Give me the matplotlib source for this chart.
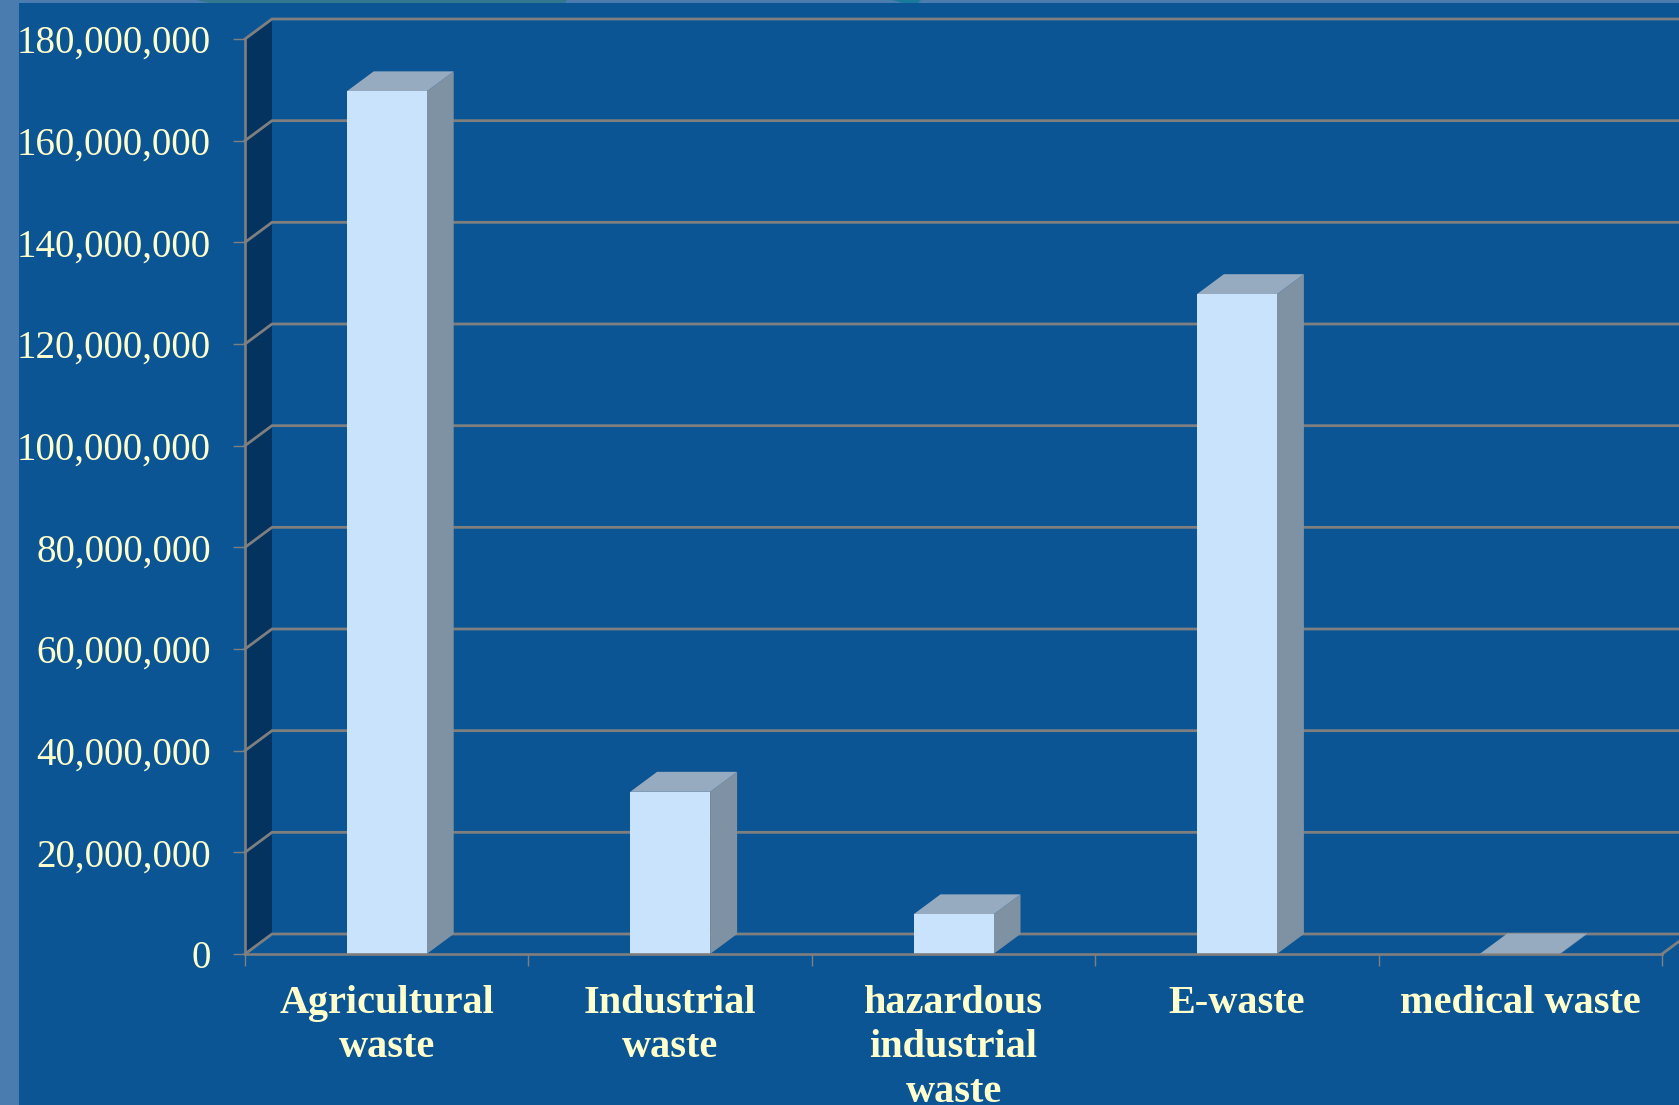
import matplotlib
matplotlib.use("Agg")
import matplotlib.pyplot as plt
from matplotlib.patches import Rectangle, Polygon
from matplotlib.ticker import FuncFormatter

categories = ["Agricultural\nwaste", "Industrial\nwaste", "hazardous\nindustrial\nwaste", "E-waste", "medical waste"]
values = [169700000, 31900000, 7800000, 129800000, 100000]
y_ticks = list(range(0, 180000001, 20000000))

BG = "#0B5595"
WALL = "#04335F"
GRID = "#7F7F7F"
FRONT = "#C9E3FC"
SIDE = "#7F92A3"
TOP = "#97ABC0"
TEXT = "#FFFFCC"
STRIP = "#4A7CB0"

W, H = 1679, 1105
fig = plt.figure(figsize=(W / 100, H / 100), dpi=100, facecolor=BG)
plt.rcParams["font.family"] = ["Liberation Serif", "DejaVu Serif"]

L, R, B, T = 245, 1662, 954, 39
ax = fig.add_axes([L / W, (H - B) / H, (R - L) / W, (B - T) / H])
ax.set_facecolor("none")
ax.set_xlim(0, 5)
ax.set_ylim(0, 180000000)

# depth of the pseudo-3D box, expressed in data units
dx = 27 / ((R - L) / 5)
dy = 20 / ((B - T) / 180000000)
bar_w = 80 / ((R - L) / 5)

for s in ["top", "right"]:
    ax.spines[s].set_visible(False)
for s in ["left", "bottom"]:
    ax.spines[s].set_color(GRID)
    ax.spines[s].set_linewidth(1.9)
    ax.spines[s].set_zorder(6)

ymax = y_ticks[-1]
ax.fill([0, dx, dx, 0], [0, dy, ymax + dy, ymax], color=WALL, lw=0, zorder=1, clip_on=False)
for v in y_ticks:
    ax.plot([0, dx, 5 + 2 * dx], [v, v + dy, v + dy], color=GRID, lw=2.0, zorder=2,
            clip_on=False, solid_joinstyle="miter")
ax.plot([5, 5 + dx], [0, dy], color=GRID, lw=2.0, zorder=2, clip_on=False)

xs = [i + 0.5 for i in range(len(values))]
for x, v in zip(xs, values):
    x0, x1 = x - bar_w / 2, x + bar_w / 2
    ax.fill([x1, x1 + dx, x1 + dx, x1], [0, dy, v + dy, v], color=SIDE, lw=0, zorder=3, clip_on=False)
    ax.fill([x0, x0 + dx, x1 + dx, x1], [v, v + dy, v + dy, v], color=TOP, lw=0, zorder=3, clip_on=False)
ax.bar(xs, values, width=bar_w, color=FRONT, edgecolor="none", linewidth=0, zorder=4)

ax.set_xticks(range(6))
ax.set_xticklabels([])
ax.set_xticks(xs, minor=True)
ax.set_xticklabels(categories, minor=True, fontsize=29, fontweight="bold", color=TEXT,
                   linespacing=1.28, family=["Liberation Serif", "DejaVu Serif"])
ax.tick_params(axis="x", which="major", length=8.6, width=1, color=GRID)
ax.tick_params(axis="x", which="minor", length=0, pad=22)
ax.set_yticks(y_ticks)
ax.yaxis.set_major_formatter(FuncFormatter(lambda v, _: f"{int(v):,}"))
ax.tick_params(axis="y", length=8.6, width=1, color=GRID, pad=16, labelsize=28, labelcolor=TEXT)

# slide frame around the chart
fig.add_artist(Rectangle((0, 0), 19 / W, 1, transform=fig.transFigure, color=STRIP, lw=0))
fig.add_artist(Rectangle((0, 1 - 3 / H), 1, 3 / H, transform=fig.transFigure, color=STRIP, lw=0, zorder=0.5))
fig.add_artist(Polygon([(196 / W, 1), (567 / W, 1), (565 / W, 1 - 3 / H), (210 / W, 1 - 3 / H)],
                       transform=fig.transFigure, color="#33768F", lw=0, zorder=1))
fig.add_artist(Polygon([(893 / W, 1), (921 / W, 1), (918 / W, 1 - 3 / H), (902 / W, 1 - 3 / H)],
                       transform=fig.transFigure, color="#1A7A9E", lw=0, zorder=1))

fig.savefig("out.png", dpi=100, facecolor=BG)
